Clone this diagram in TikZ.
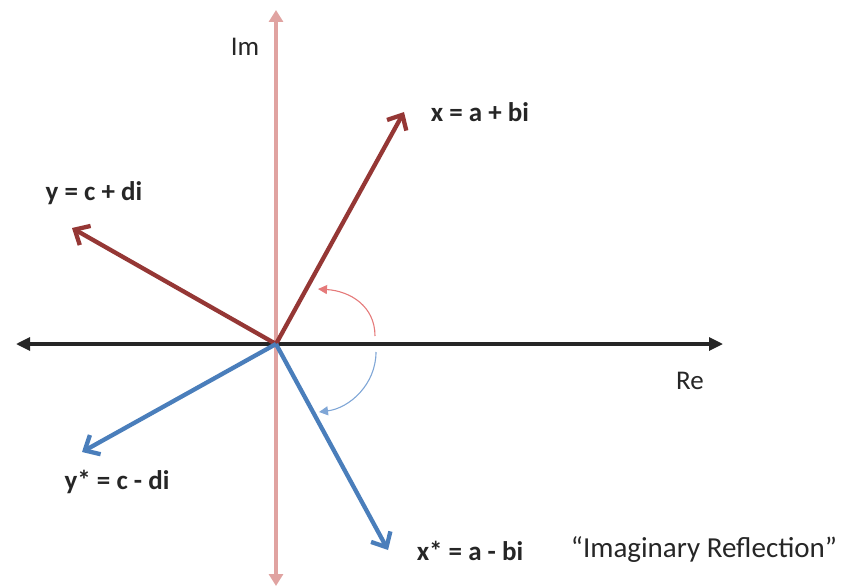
\documentclass[tikz,border=0pt]{standalone}
\usepackage{fontspec}
\setmainfont{Carlito}
\usetikzlibrary{arrows.meta}
\definecolor{dred}{HTML}{953735}
\definecolor{dblue}{HTML}{4A7EBB}
\definecolor{pinkax}{HTML}{E0A3A1}
\definecolor{lred}{HTML}{E57A7A}
\definecolor{lblue}{HTML}{7FA6D6}
\definecolor{txt}{HTML}{262626}
\tikzset{
  vec/.style={line width=4.3pt, -{Straight Barb[length=12pt,width=22pt,line width=4.3pt]}},
  lab/.style={font=\bfseries\fontsize{27}{30}\selectfont, text=txt, inner sep=0pt},
  axlab/.style={font=\fontsize{27}{30}\selectfont, text=txt, inner sep=0pt},
  arcarrow/.style={line width=1.1pt, -{Triangle[length=9pt,width=9pt]}}
}
\begin{document}
\begin{tikzpicture}[x=1pt,y=-1pt]
\useasboundingbox (0,0) rectangle (850,588);
\coordinate (O) at (276,344);
\coordinate (imtop) at (276,10);
\coordinate (imbot) at (276,586);
\coordinate (reL) at (16,344);
\coordinate (reR) at (723,344);
\coordinate (xt) at (404,112);
\coordinate (yt) at (72,228);
\coordinate (yst) at (82,452);
\coordinate (xst) at (388,550);
\coordinate (ra) at (375,336);
\coordinate (rb) at (318,289);
\coordinate (ba) at (376,352);
\coordinate (bb) at (319,412);
% vertical axis
\draw[pinkax, line width=4pt, {Triangle[length=12pt,width=14pt]}-{Triangle[length=12pt,width=14pt]}] (imbot) -- (imtop);
% horizontal axis
\draw[black!85, line width=3.2pt, {Triangle[length=14pt,width=13pt]}-{Triangle[length=14pt,width=13pt]}] (reL) -- (reR);
% vectors
\draw[vec, dred] (O) -- (xt);
\draw[vec, dred] (O) -- (yt);
\draw[vec, dblue] (O) -- (yst);
\draw[vec, dblue] (O) -- (xst);
% arcs
\draw[arcarrow, lred] (ra) .. controls (375,306) and (350,291) .. (rb);
\draw[arcarrow, lblue] (ba) .. controls (376,384) and (350,408) .. (bb);
% labels
\node[axlab] (im) at (245,47) {Im};
\node[axlab] (re) at (690,381) {Re};
\node[lab] (xl) at (480,112) {x = a + bi};
\node[lab] (yl) at (94,193) {y = c + di};
\node[lab] (ysl) at (117,482) {y* = c - di};
\node[lab] (xsl) at (470,551) {x* = a - bi};
\node[font=\fontsize{29}{32}\selectfont, text=txt, inner sep=0pt] (refl) at (704,550) {“Imaginary Reflection”};
\end{tikzpicture}
\end{document}
